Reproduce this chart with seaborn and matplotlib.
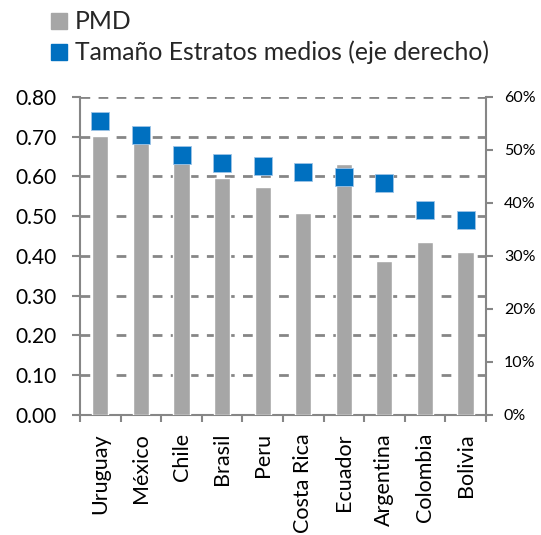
import matplotlib
matplotlib.use("Agg")
import matplotlib.pyplot as plt
from matplotlib.lines import Line2D
from matplotlib.ticker import FuncFormatter, FixedLocator
import seaborn as sns
import pandas as pd
import numpy as np

countries = ["Uruguay", "México", "Chile", "Brasil", "Peru", "Costa Rica",
             "Ecuador", "Argentina", "Colombia", "Bolivia"]
pmd = [0.703, 0.684, 0.634, 0.595, 0.573, 0.508, 0.632, 0.387, 0.434, 0.410]
estratos = [0.555, 0.529, 0.491, 0.475, 0.469, 0.458, 0.449, 0.438, 0.386, 0.367]
left_ticks = [0.0, 0.1, 0.2, 0.3, 0.4, 0.5, 0.6, 0.7, 0.8]
right_ticks = [0.0, 0.1, 0.2, 0.3, 0.4, 0.5, 0.6]

df = pd.DataFrame({"country": countries, "pmd": pmd, "estratos": estratos})

sns.set_theme(style="white")
plt.rcParams["font.family"] = ["Lato", "DejaVu Sans"]
plt.rcParams["lines.scale_dashes"] = False

BAR = "#A6A6A6"
BLUE = "#0070C0"
AX = "#868686"

fig = plt.figure(figsize=(5.41, 5.35), dpi=100)
ax = fig.add_axes([0.148, 0.2243, 0.75, 0.5944])

sns.barplot(data=df, x="country", y="pmd", order=countries, color=BAR,
            width=0.4, saturation=1, ax=ax, zorder=3)
ax.set_ylim(0, 0.8)
ax.set_xlim(-0.5, len(countries) - 0.5)
ax.yaxis.set_major_locator(FixedLocator(left_ticks))
ax.yaxis.set_major_formatter(FuncFormatter(lambda v, p: f"{v:.2f}"))
for t in left_ticks[1:]:
    ax.axhline(t, color=AX, lw=2.0, dashes=(7, 6), zorder=1)

ax2 = ax.twinx()
sns.pointplot(data=df, x="country", y="estratos", order=countries, color=BLUE,
              markers="s", linestyle="none", markersize=13,
              markeredgecolor="#9DC3E6", markeredgewidth=0.6,
              errorbar=None, ax=ax2, zorder=5)
ax2.set_ylim(0, 0.6)
ax2.set_xlim(-0.5, len(countries) - 0.5)
ax2.yaxis.set_major_locator(FixedLocator(right_ticks))
ax2.yaxis.set_major_formatter(FuncFormatter(lambda v, p: f"{v*100:.0f}%"))

for a in (ax, ax2):
    a.set_xlabel("")
    a.set_ylabel("")
    for s in a.spines.values():
        s.set_visible(False)

ax.spines["left"].set_visible(True)
ax.spines["left"].set_color(AX)
ax.spines["left"].set_linewidth(1.5)
ax.spines["bottom"].set_visible(True)
ax.spines["bottom"].set_color(AX)
ax.spines["bottom"].set_linewidth(1.5)
ax2.spines["right"].set_visible(True)
ax2.spines["right"].set_color(AX)
ax2.spines["right"].set_linewidth(1.5)

ax.set_xticks(range(len(countries)))
ax.set_xticklabels(countries, rotation=90, fontsize=15.5, color="black")
ax.set_xticks(np.arange(-0.5, len(countries), 1.0), minor=True)
ax.tick_params(axis="x", which="major", length=0, pad=13)
ax.tick_params(axis="x", which="minor", length=5, width=1.5, color=AX,
               direction="out", bottom=True)
ax.tick_params(axis="y", which="major", length=6, width=1.5, color=AX,
               direction="out", labelsize=15, labelcolor="black", pad=11, left=True)
ax2.tick_params(axis="y", which="major", length=5, width=1.5, color=AX,
                direction="out", labelsize=11.5, labelcolor="black", pad=8, right=True)
ax2.tick_params(axis="x", which="both", length=0, labelbottom=False)

handles = [
    Line2D([], [], marker="s", color=BAR, linestyle="none", markersize=11),
    Line2D([], [], marker="s", color=BLUE, linestyle="none", markersize=11),
]
fig.legend(handles, ["PMD", "Tamaño Estratos medios (eje derecho)"],
           loc="upper left", bbox_to_anchor=(0.075, 0.999), frameon=False,
           fontsize=17.8, handlelength=0.7, handletextpad=0.3, labelspacing=0.3,
           borderaxespad=0)

fig.savefig("out.png", dpi=100)
